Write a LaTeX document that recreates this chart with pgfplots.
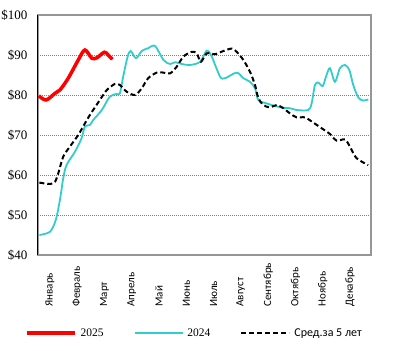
\documentclass[border=0pt]{standalone}
\usepackage{fontspec}
\setmainfont{Liberation Serif}
\newfontfamily\carlito{Carlito}
\usepackage{pgfplots}
\pgfplotsset{compat=1.18}
\definecolor{red25}{RGB}{255,0,0}
\definecolor{cyan24}{RGB}{51,204,204}
\definecolor{framegray}{RGB}{150,150,150}
\begin{document}
\begin{tikzpicture}
\useasboundingbox (0,0) rectangle (393bp,351bp);
\begin{axis}[
  at={(38bp,96bp)}, anchor=south west,
  scale only axis, width=333bp, height=240bp,
  xmin=0, xmax=12, ymin=40, ymax=100,
  ytick={40,50,...,100},
  yticklabel={\$\pgfmathprintnumber{\tick}},
  /pgf/number format/assume math mode=true,
  yticklabel style={font=\fontsize{13bp}{15bp}\selectfont, xshift=-7bp},
  xtick={0.43,1.41,2.40,3.38,4.36,5.35,6.33,7.31,8.30,9.28,10.26,11.24},
  xticklabels={Январь,Февраль,Март,Апрель,Май,Июнь,Июль,Август,Сентябрь,Октябрь,Ноябрь,Декабрь},
  xticklabel style={font=\carlito\fontsize{11bp}{13bp}\selectfont, rotate=90, anchor=west},
  xticklabel shift=55bp,
  major tick length=0pt,
  ymajorgrids,
  grid style={draw=gray, dash pattern=on 1bp off 1bp, line width=0.6bp},
  axis line style={draw=framegray, line width=1.6bp},
  clip=true,
  legend columns=3,
  legend style={at={(-0.039,-0.325)}, anchor=west, draw=none, fill=none, inner sep=0pt,
    font=\fontsize{11.5bp}{13bp}\selectfont,
    /tikz/every odd column/.append style={column sep=2bp},
    /tikz/every even column/.append style={column sep=28bp}},
  legend image code/.code={\draw[#1] (0bp,0bp) -- (48bp,0bp);},
  extra description/.code={\draw[black, line width=1bp] (rel axis cs:0,0) -- (rel axis cs:0,1);},
]
\addplot[red25, line width=3.5bp, smooth] coordinates {
(0.03,79.8) (0.29,78.75) (0.61,80.4) (0.79,81.25) (1.09,84.2) (1.45,88.75) (1.69,91.25)
(1.94,89.2) (2.12,89.3) (2.39,90.7) (2.53,90) (2.68,88.9)
};
\addlegendentry{2025}
\addplot[cyan24, line width=1.8bp, smooth] coordinates {
(0.05,45.0) (0.43,45.8) (0.64,48.75) (0.79,53.75) (0.91,59.2) (1.03,62.5) (1.33,65.8)
(1.57,69.2) (1.69,72.1) (1.87,72.5) (1.99,73.75) (2.30,76.25) (2.59,79.6) (2.84,80.25)
(2.95,80.4) (3.07,84.6) (3.23,89.6) (3.34,91) (3.53,89.2) (3.74,91) (3.97,91.7) (4.22,92.25)
(4.52,88.75) (4.76,87.75) (4.94,88.2) (5.18,87.75) (5.48,87.5) (5.84,88.3) (6.08,91.1)
(6.26,89.6) (6.56,84.6) (6.74,84.2) (7.16,85.6) (7.40,84.2) (7.64,83.3) (7.82,81.7)
(7.94,78.75) (8.24,77.9) (8.54,77.25) (8.84,76.8) (9.08,76.7) (9.32,76.25) (9.74,76.25)
(9.86,77.9) (9.98,82.5) (10.10,83.1) (10.26,82.25) (10.38,84.6) (10.52,86.7) (10.70,83.3)
(10.88,86.7) (11.06,87.5) (11.22,86.25) (11.36,82.5) (11.54,79.4) (11.72,78.6) (11.90,78.9)
};
\addlegendentry{2024}
\addplot[black, line width=2bp, dash pattern=on 5bp off 3bp, smooth] coordinates {
(0.05,58.1) (0.43,57.75) (0.61,58.3) (0.73,60.4) (0.91,64.6) (1.15,67.1) (1.45,70)
(1.69,72.9) (1.87,75) (2.23,78.75) (2.48,81.25) (2.77,82.75) (2.95,82.5) (3.20,80.8)
(3.50,80) (3.74,81.7) (3.97,84.2) (4.28,85.6) (4.52,85.6) (4.76,85.4) (5.00,87.1)
(5.24,89.6) (5.54,90.8) (5.72,90.4) (5.87,88.3) (6.08,90.4) (6.38,90.2) (6.68,91.0)
(6.98,91.6) (7.16,90.8) (7.40,88.75) (7.64,85.8) (7.82,82.5) (7.94,79.2) (8.12,77.5)
(8.36,76.9) (8.60,77.5) (8.84,76.7) (9.08,75.4) (9.32,74.4) (9.62,74.4) (9.92,73.1)
(10.22,71.7) (10.52,70.25) (10.76,68.6) (11.06,68.9) (11.24,67.1) (11.48,64.2) (11.90,62.5)
};
\addlegendentry{\carlito\fontsize{12bp}{13bp}\selectfont Сред.за 5 лет}
\end{axis}
\end{tikzpicture}
\end{document}
